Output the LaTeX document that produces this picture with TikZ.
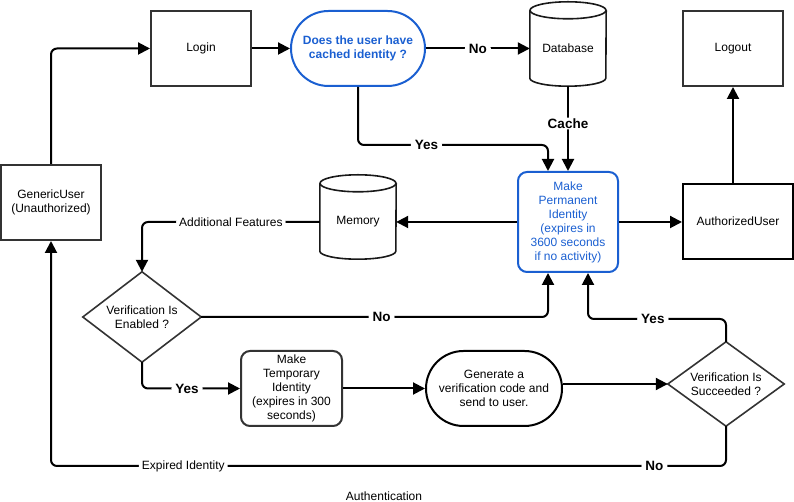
\documentclass[tikz,border=0pt]{standalone}
\usepackage{fontspec}
\setmainfont{Liberation Sans}
\usetikzlibrary{arrows.meta,calc,shapes.misc}

\definecolor{idblue}{HTML}{1A5FD1}
\definecolor{boxline}{HTML}{333333}

% cylinder outline around a rectangular node
\newcommand\drawcyl[1]{%
  \draw[cylline] ($(#1.north west)+(0,-8.5pt)$) -- ($(#1.south west)+(0,8pt)$)
     arc[start angle=180,end angle=360,x radius=38pt,y radius=8pt]
     -- ($(#1.north east)+(0,-8.5pt)$);
  \draw[cylline] ($(#1.north)+(0,-8.5pt)$) ellipse[x radius=38pt,y radius=8.5pt];}
% diamond outline through the side midpoints of a rectangular node
\newcommand\drawdiam[1]{%
  \draw[diamline] (#1.north) -- (#1.east) -- (#1.south) -- (#1.west) -- cycle;}

\begin{document}
\begin{tikzpicture}[x=1pt,y=1pt,
  every node/.style={font=\fontsize{12}{14}\selectfont, align=center, inner sep=0pt},
  plainbox/.style={draw=boxline, line width=2pt, minimum width=100pt, minimum height=75pt},
  darkbox/.style={draw=black, line width=2pt, minimum height=75pt},
  bluebox/.style={draw=idblue, text=idblue, line width=2pt, rounded corners=9pt,
    minimum width=100pt, minimum height=100pt},
  tempbox/.style={draw=boxline, line width=2pt, rounded corners=9pt,
    minimum width=101pt, minimum height=75pt},
  stadium/.style={rounded rectangle, line width=2pt, minimum height=75pt},
  cylbox/.style={minimum width=76pt, minimum height=84pt},
  cylline/.style={draw=black!90, line width=1.6pt},
  diambox/.style={},
  diamline/.style={draw=boxline, line width=1.6pt, line join=miter},
  arr/.style={draw=black, line width=2pt, rounded corners=6pt,
    -{Triangle[length=12pt,width=12pt]}},
  lbl/.style={fill=white, inner xsep=4pt, inner ysep=1pt,
    font=\fontsize{13.5}{16}\selectfont\bfseries},
  lbltxt/.style={fill=white, inner xsep=3pt, inner ysep=1pt}
]
\useasboundingbox (0,0) rectangle (794,502);

% ---- nodes ----
\node[plainbox] (login) at (201,453.5) {Login};
\node[stadium, draw=idblue, text=idblue, minimum width=134pt,
      font=\fontsize{12}{14}\selectfont\bfseries] (ask) at (358,453.5)
      {Does the user have\\cached identity ?};
\node[cylbox] (db) at (568,458) {};
\drawcyl{db}
\node (dbname) at ($(db.center)+(0,-4.5pt)$) {Database};
\node[plainbox] (logout) at (733,453.5) {Logout};

\node[plainbox] (generic) at (51,299.5) {GenericUser\\(Unauthorized)};
\node[cylbox] (mem) at (358,285) {};
\drawcyl{mem}
\node (memname) at ($(mem.center)+(0,-4.5pt)$) {Memory};
\node[bluebox] (perm) at (568,280)
      {Make\\Permanent\\Identity\\(expires in\\3600 seconds\\if no activity)};
\node[darkbox, minimum width=110pt] (auth) at (738,280.5) {AuthorizedUser};

\node[minimum width=118pt, minimum height=90pt] (en) at (142,185) {};
\drawdiam{en}
\node (enname) at (en.center) {Verification Is\\Enabled ?};

\node[tempbox] (temp) at (291.5,113.5)
      {Make\\Temporary\\Identity\\(expires in 300\\seconds)};
\node[stadium, draw=black, minimum width=136pt] (gen) at (494,113.5)
      {Generate a\\verification code and\\send to user.};
\node[minimum width=116pt, minimum height=84pt] (ok) at (726,118) {};
\drawdiam{ok}
\node (okname) at (ok.center) {Verification Is\\Succeeded ?};

\node (caption) at (384,6) {Authentication};

% ---- connectors ----
\draw[arr] (generic.north) |- (login.west);
\draw[arr] (login.east) -- (ask.west);
\draw[arr] (ask.east) -- node[lbl]{No} (ask.east -| db.west);
\draw[arr] (ask.south) |- node[lbl,pos=0.68]{Yes} ($(perm.north)+(-20pt,26pt)$)
      -- ($(perm.north)+(-20pt,0)$);
\draw[arr] (db.south) -- node[lbl,pos=0.44]{Cache} (db.south |- perm.north);
\draw[arr] (perm.west) -- (perm.west -| mem.east);
\draw[arr] (mem.west |- perm.west) -| node[lbltxt,pos=0.25,font=\fontsize{12}{14}\selectfont]{Additional Features} (en.north);
\draw[arr] (perm.east) -- (perm.east -| auth.west);
\draw[arr] (logout.south |- auth.north) -- (logout.south);
\draw[arr] (en.east) -| node[lbl,pos=0.26]{No} ($(perm.south)+(-20pt,0)$);
\draw[arr] (en.south) |- node[lbl,pos=0.73]{Yes} (temp.west);
\draw[arr] (temp.east) -- (gen.west);
\draw[arr] (gen.east |- ok.west) -- (ok.west);
\draw[arr] (ok.north) |- node[lbl,pos=0.765]{Yes} ($(perm.south)+(20pt,-46pt)$)
      -- ($(perm.south)+(20pt,0)$);
\draw[arr] (ok.south) |- node[lbl,pos=0.553]{No}
      node[lbltxt,pos=0.902,font=\fontsize{12}{14}\selectfont]{Expired Identity}
      ($(generic.south)+(0,-225pt)$) -- (generic.south);
\end{tikzpicture}
\end{document}
